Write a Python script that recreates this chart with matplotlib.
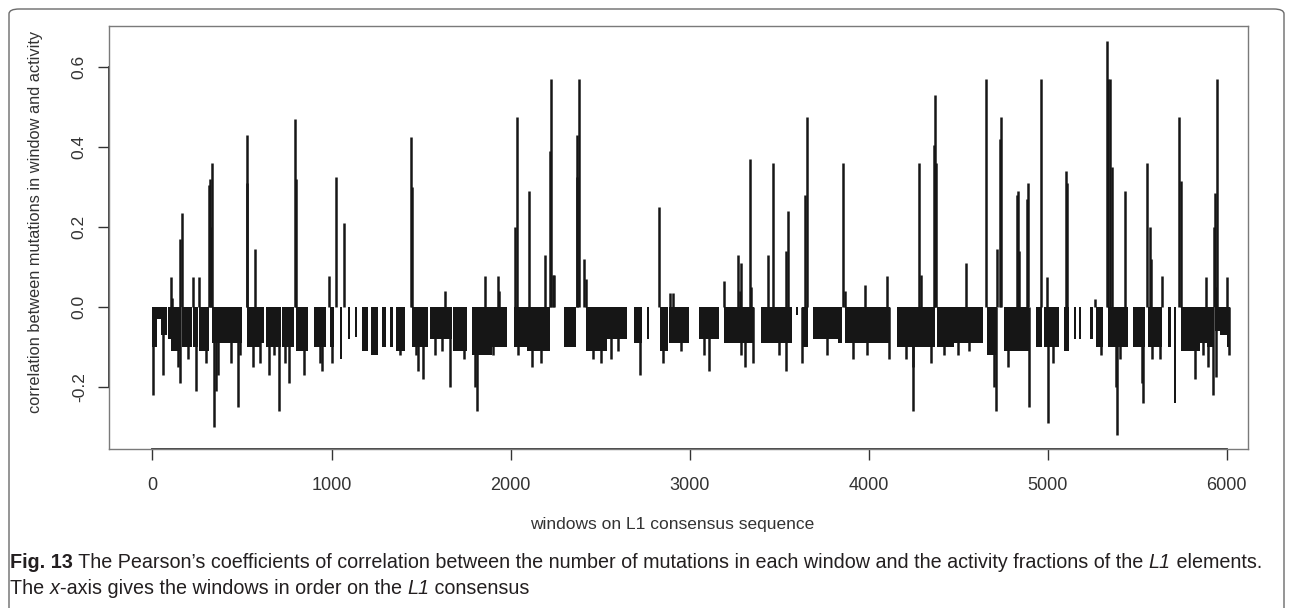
import numpy as np
import matplotlib
matplotlib.use("Agg")
import matplotlib.pyplot as plt
from matplotlib.patches import FancyBboxPatch

# dense negative blocks of windows: start, end, depth
run_start = [0, 23, 45, 85, 105, 167, 228, 260, 335, 530,
             606, 634, 724, 802, 905, 990, 1045, 1092, 1132, 1173, 1223,
             1280, 1326, 1363, 1447, 1550, 1681, 1784,
             1896, 2018, 2093, 2298, 2420,
             2541, 2690, 2765, 2835, 2887, 3055,
             3195, 3400, 3597, 3630, 3690,
             3830, 3868, 4158, 4290, 4383,
             4476, 4663, 4756, 4935, 4980, 5093,
             5150, 5177, 5239, 5270, 5336, 5476, 5560, 5672, 5706,
             5748, 5850, 5890, 5938, 5962, 6005]
run_end = [23, 45, 80, 105, 157, 223, 255, 313, 500, 606,
           625, 718, 788, 868, 970, 1012, 1060, 1105, 1145, 1205, 1260,
           1307, 1345, 1410, 1541, 1672, 1756, 1896,
           1980, 2093, 2223, 2365, 2541,
           2653, 2737, 2775, 2878, 2999, 3167,
           3360, 3570, 3607, 3660, 3830,
           3850, 4120, 4290, 4370, 4476,
           4640, 4718, 4897, 4970, 5065, 5120,
           5160, 5187, 5252, 5310, 5450, 5545, 5640, 5688, 5716,
           5850, 5890, 5930, 5962, 6000, 6020]
run_depth = [-0.10, -0.03, -0.07, -0.08, -0.11, -0.10, -0.10, -0.11, -0.09, -0.10,
             -0.09, -0.10, -0.10, -0.11, -0.10, -0.10, -0.13, -0.08, -0.075, -0.11, -0.12,
             -0.10, -0.10, -0.11, -0.10, -0.08, -0.11, -0.12,
             -0.10, -0.10, -0.11, -0.10, -0.11,
             -0.08, -0.09, -0.08, -0.11, -0.09, -0.08,
             -0.09, -0.09, -0.02, -0.10, -0.08,
             -0.09, -0.09, -0.10, -0.10, -0.10,
             -0.09, -0.12, -0.11, -0.10, -0.10, -0.11,
             -0.08, -0.08, -0.08, -0.10, -0.10, -0.10, -0.10, -0.10, -0.24,
             -0.11, -0.09, -0.10, -0.06, -0.07, -0.10]

# single deeper negative windows
neg_x = [2, 60, 140, 152, 200, 242, 300, 343, 355, 365, 440, 475, 490, 560, 600,
         649, 680, 705, 740, 761, 849, 935, 948, 1000, 1380, 1470, 1485, 1513,
         1580, 1620, 1664, 1740, 1800, 1812, 1900, 2040, 2120, 2170, 2460, 2504,
         2560, 2600, 2724, 2850, 2950, 3080, 3111, 3290, 3308, 3354, 3500, 3538,
         3629, 3766, 3915, 3990, 4117, 4211, 4246, 4250, 4349, 4420, 4500, 4560,
         4700, 4710, 4780, 4897, 5005, 5031, 5300, 5380, 5388, 5407, 5530, 5536,
         5583, 5626, 5826, 5870, 5897, 5925, 5940, 6015]
neg_y = [-0.22, -0.17, -0.15, -0.19, -0.13, -0.21, -0.14, -0.30, -0.21, -0.17, -0.14, -0.25, -0.12, -0.15, -0.14,
         -0.17, -0.12, -0.26, -0.14, -0.19, -0.17, -0.14, -0.16, -0.14, -0.12, -0.12, -0.16, -0.18,
         -0.12, -0.11, -0.20, -0.13, -0.20, -0.26, -0.12, -0.12, -0.15, -0.14, -0.13, -0.14,
         -0.13, -0.11, -0.17, -0.14, -0.11, -0.12, -0.16, -0.12, -0.15, -0.14, -0.12, -0.16,
         -0.14, -0.12, -0.13, -0.12, -0.13, -0.13, -0.26, -0.15, -0.14, -0.12, -0.12, -0.11,
         -0.20, -0.26, -0.15, -0.25, -0.29, -0.14, -0.12, -0.20, -0.32, -0.13, -0.19, -0.24,
         -0.13, -0.13, -0.18, -0.12, -0.15, -0.22, -0.175, -0.12]

# positive windows
pos_x = [105, 111, 155, 163, 227, 257, 316, 322, 328, 331, 526, 530, 574, 797, 803,
         986, 1025, 1072, 1442, 1447, 1634, 1859, 1928, 1935, 2027, 2036, 2102,
         2190, 2223, 2229, 2238, 2245, 2369, 2373, 2380, 2410, 2420, 2831, 2893,
         2906, 3190, 3270, 3280, 3289, 3336, 3345, 3438, 3468, 3541, 3551, 3644,
         3659, 3855, 3868, 3981, 4102, 4280, 4293, 4368, 4370, 4379, 4547, 4657,
         4719, 4733, 4738, 4830, 4835, 4840, 4886, 4889, 4964, 4998, 5103, 5108,
         5265, 5330, 5336, 5349, 5358, 5435, 5557, 5570, 5579, 5639, 5736, 5747,
         5888, 5931, 5936, 5940, 5947, 6005]
pos_y = [0.075, 0.023, 0.17, 0.235, 0.075, 0.075, 0.305, 0.32, 0.20, 0.36, 0.43, 0.31, 0.145, 0.47, 0.32,
         0.078, 0.325, 0.21, 0.425, 0.30, 0.04, 0.078, 0.078, 0.04, 0.20, 0.475, 0.29,
         0.13, 0.39, 0.57, 0.08, 0.08, 0.325, 0.43, 0.57, 0.12, 0.07, 0.25, 0.035,
         0.035, 0.065, 0.13, 0.04, 0.11, 0.37, 0.05, 0.13, 0.36, 0.14, 0.24, 0.28,
         0.475, 0.36, 0.04, 0.055, 0.078, 0.36, 0.08, 0.405, 0.53, 0.36, 0.11, 0.57,
         0.145, 0.42, 0.475, 0.28, 0.29, 0.14, 0.27, 0.31, 0.57, 0.075, 0.34, 0.31,
         0.02, 0.665, 0.57, 0.57, 0.35, 0.29, 0.36, 0.20, 0.12, 0.078, 0.475, 0.315,
         0.075, 0.20, 0.285, 0.05, 0.57, 0.075]

x_ticks = [0, 1000, 2000, 3000, 4000, 5000, 6000]
y_ticks = [-0.2, 0.0, 0.2, 0.4, 0.6]

W, H = 1293, 608
fig = plt.figure(figsize=(W / 100, H / 100), dpi=100)
axis_font = ["Liberation Sans", "DejaVu Sans"]


def px_box(l, t, r, b):
    return [l / W, 1 - b / H, (r - l) / W, (b - t) / H]


# rounded frame around the whole figure
frame = FancyBboxPatch((9 / W, -20 / H), (W - 18) / W, (H + 11) / H,
                       boxstyle="round,pad=0,rounding_size=0.008",
                       transform=fig.transFigure, fill=False,
                       edgecolor="#6a6a6a", linewidth=1.0)
fig.patches.append(frame)

ax = fig.add_axes(px_box(109, 26, 1248, 449))
col = "#161616"
ax.bar(run_start, run_depth, width=np.array(run_end) - np.array(run_start),
       align="edge", color=col, linewidth=0)
ax.vlines(neg_x, 0, neg_y, color=col, linewidth=1.8)
ax.vlines(pos_x, 0, pos_y, color=col, linewidth=1.8)

ax.set_xlim(-243, 6120)
ax.set_ylim(-0.355, 0.7025)
for s in ax.spines.values():
    s.set_color("#7a7a7a")
    s.set_linewidth(1.0)

ax.set_xticks(x_ticks)
ax.set_yticks(y_ticks)
ax.set_xticklabels([str(t) for t in x_ticks])
ax.set_yticklabels(["%.1f" % t for t in y_ticks])
ax.tick_params(axis="both", length=8, width=1.0, color="#333333",
               labelcolor="#333333", direction="out")
ax.tick_params(axis="x", pad=12, labelsize=13)
ax.tick_params(axis="y", pad=8, labelrotation=90, labelsize=12.5)
for lab in ax.get_yticklabels():
    lab.set_va("center")
for lab in ax.get_xticklabels() + ax.get_yticklabels():
    lab.set_family(axis_font)

# R-style axis lines spanning the tick range
ax.plot([0, 6000], [-0.355, -0.355], color="#333333", lw=1.3, clip_on=False)
ax.plot([-243, -243], [-0.2, 0.6], color="#333333", lw=1.3, clip_on=False)

fig.text(36 / W, 1 - 222 / H, "correlation between mutations in window and activity",
         rotation=90, ha="center", va="center", fontsize=11.8, color="#333333",
         family=axis_font)
fig.text(672 / W, 1 - 525 / H, "windows on L1 consensus sequence",
         ha="center", va="center", fontsize=12.5, color="#333333",
         family=axis_font)

# caption, built from styled pieces
cap_font = ["Liberation Sans", "DejaVu Sans"]
line1 = [("Fig. 13", "normal", "bold"),
         (" The Pearson\u2019s coefficients of correlation between the number of mutations in each window and the activity fractions of the ", "normal", "normal"),
         ("L1", "italic", "normal"),
         (" elements.", "normal", "normal")]
line2 = [("The ", "normal", "normal"),
         ("x", "italic", "normal"),
         ("-axis gives the windows in order on the ", "normal", "normal"),
         ("L1", "italic", "normal"),
         (" consensus", "normal", "normal")]

renderer = fig.canvas.get_renderer()


def put_line(parts, x0, yc, size, draw=True):
    x = x0
    for txt, style, weight in parts:
        t = fig.text(x / W, 1 - yc / H, txt, ha="left", va="center",
                     fontsize=size, style=style, weight=weight,
                     family=cap_font, color="#231f20")
        bb = t.get_window_extent(renderer=renderer)
        x += bb.width
        if not draw:
            t.remove()
    return x - x0


# pick the caption size so line 1 spans the same width as in the figure
w12 = put_line(line1, 10, 563, 12, draw=False)
cap_size = 12 * 1250 / w12
put_line(line1, 10, 563, cap_size)
put_line(line2, 10, 588, cap_size)

fig.savefig("out.png", dpi=100)
